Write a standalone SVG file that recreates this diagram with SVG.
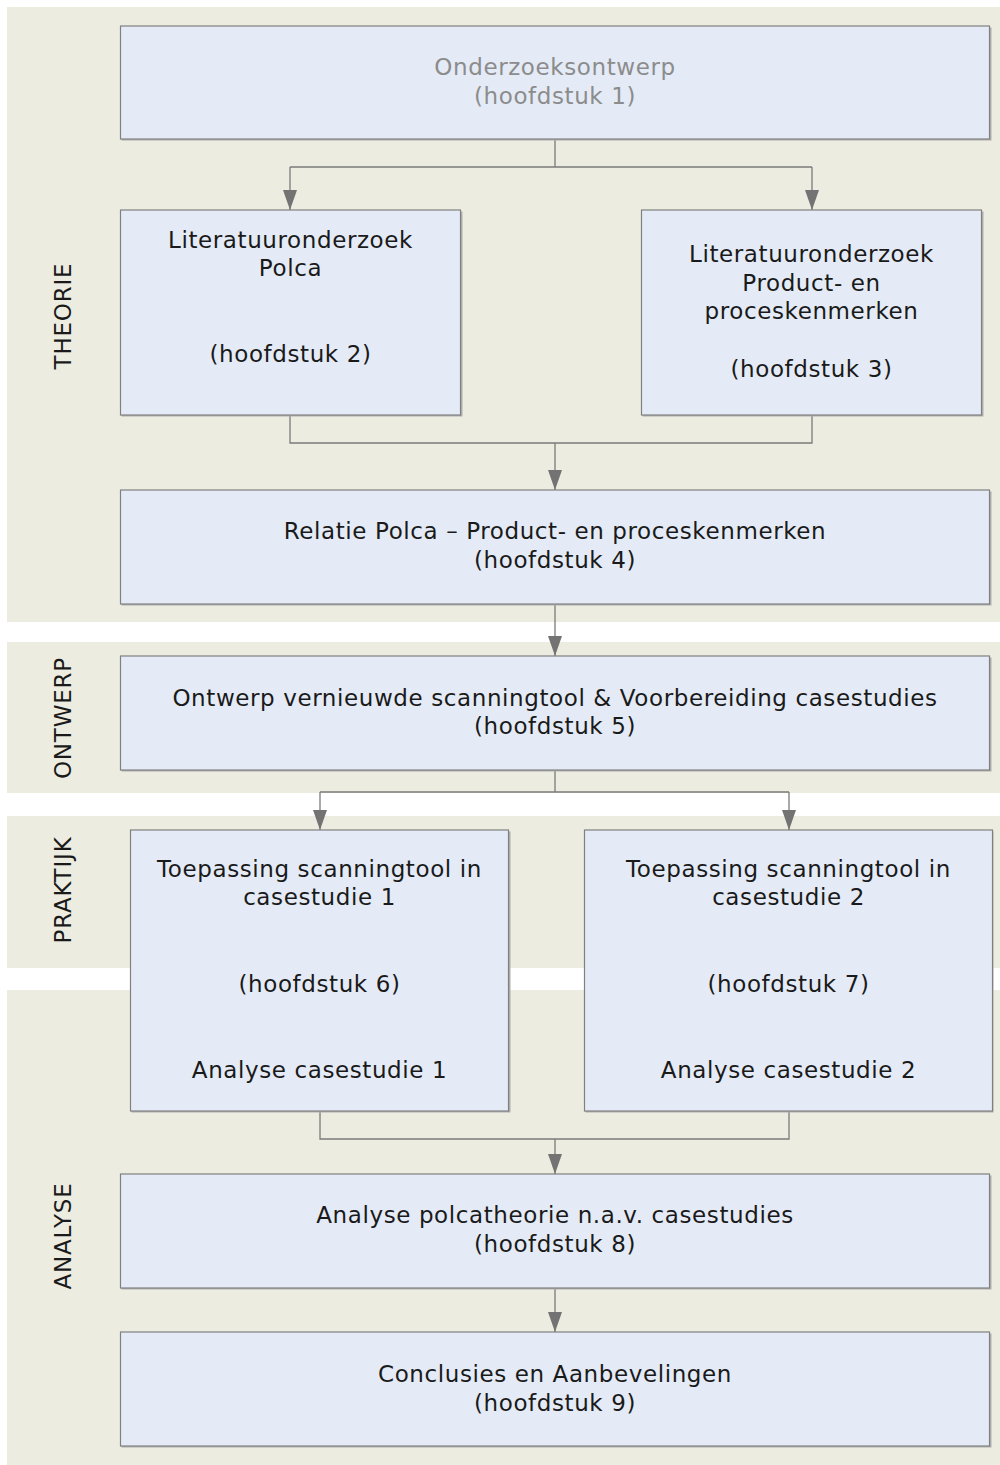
<svg xmlns="http://www.w3.org/2000/svg" width="1000" height="1465" viewBox="0 0 1000 1465">
  <style>
    .band { fill: #ECECE1; }
    .shadow { fill: #AFAFAF; }
    .box { fill: #E4EBF6; stroke: #808080; stroke-width: 1.2; }
    .t { font-family: "DejaVu Sans", Verdana, sans-serif; font-size: 23px; letter-spacing: 0.6px; fill: #1a1a1a; text-anchor: middle; }
    .muted { fill: #8c8c8c; }
    .side { font-family: "DejaVu Sans", Verdana, sans-serif; font-size: 23px; letter-spacing: 0.8px; fill: #1a1a1a; text-anchor: middle; }
    .wire { fill: none; stroke: #7a7a7a; stroke-width: 1.3; }
  </style>
  <defs>
    <!-- filled triangle pointing along the path direction; tip sits on the line end -->
    <marker id="arrow" markerWidth="20" markerHeight="14" refX="20" refY="7" orient="auto" markerUnits="userSpaceOnUse" viewBox="0 0 20 14">
      <path d="M0,0 L20,7 L0,14 Z" fill="#737373"/>
    </marker>
  </defs>

  <rect width="1000" height="1465" fill="#ffffff"/>

  <!-- phase bands -->
  <g id="bands">
    <rect class="band" x="7" y="7" width="993" height="615"/>
    <rect class="band" x="7" y="642" width="993" height="151"/>
    <rect class="band" x="7" y="816" width="993" height="152"/>
    <rect class="band" x="7" y="990" width="993" height="475"/>
    <text class="side" transform="translate(71,316) rotate(-90)">THEORIE</text>
    <text class="side" transform="translate(71,718) rotate(-90)">ONTWERP</text>
    <text class="side" transform="translate(71,890) rotate(-90)">PRAKTIJK</text>
    <text class="side" transform="translate(71,1236) rotate(-90)">ANALYSE</text>
  </g>

  <!-- connectors -->
  <g id="connectors">
    <path class="wire" d="M555,139 V167 M290,167 H812"/>
    <path class="wire" d="M290,167 V210" marker-end="url(#arrow)"/>
    <path class="wire" d="M812,167 V210" marker-end="url(#arrow)"/>
    <path class="wire" d="M290,415 V443 H812 V415"/>
    <path class="wire" d="M555,443 V490" marker-end="url(#arrow)"/>
    <path class="wire" d="M555,604 V656" marker-end="url(#arrow)"/>
    <path class="wire" d="M555,770 V792 M320,792 H789"/>
    <path class="wire" d="M320,792 V830" marker-end="url(#arrow)"/>
    <path class="wire" d="M789,792 V830" marker-end="url(#arrow)"/>
    <path class="wire" d="M320,1111 V1139 H789 V1111"/>
    <path class="wire" d="M555,1139 V1174" marker-end="url(#arrow)"/>
    <path class="wire" d="M555,1288 V1332" marker-end="url(#arrow)"/>
  </g>

  <g id="n1">
    <rect class="shadow" x="121.5" y="27.5" width="870" height="113"/>
    <rect class="box" x="120.5" y="26" width="869" height="113"/>
    <text class="t muted" x="555" y="75">Onderzoeksontwerp</text>
    <text class="t muted" x="555" y="104">(hoofdstuk 1)</text>
  </g>

  <g id="n2">
    <rect class="shadow" x="121.5" y="211.5" width="341" height="205"/>
    <rect class="box" x="120.5" y="210" width="340" height="205"/>
    <text class="t" x="290.5" y="248">Literatuuronderzoek</text>
    <text class="t" x="290.5" y="276">Polca</text>
    <text class="t" x="290.5" y="362">(hoofdstuk 2)</text>
  </g>

  <g id="n3">
    <rect class="shadow" x="642.5" y="211.5" width="341" height="205"/>
    <rect class="box" x="641.5" y="210" width="340" height="205"/>
    <text class="t" x="811.5" y="262">Literatuuronderzoek</text>
    <text class="t" x="811.5" y="291">Product- en</text>
    <text class="t" x="811.5" y="319">proceskenmerken</text>
    <text class="t" x="811.5" y="377">(hoofdstuk 3)</text>
  </g>

  <g id="n4">
    <rect class="shadow" x="121.5" y="491.5" width="870" height="114"/>
    <rect class="box" x="120.5" y="490" width="869" height="114"/>
    <text class="t" x="555" y="539">Relatie Polca – Product- en proceskenmerken</text>
    <text class="t" x="555" y="568">(hoofdstuk 4)</text>
  </g>

  <g id="n5">
    <rect class="shadow" x="121.5" y="657.5" width="870" height="114"/>
    <rect class="box" x="120.5" y="656" width="869" height="114"/>
    <text class="t" x="555" y="706">Ontwerp vernieuwde scanningtool &amp; Voorbereiding casestudies</text>
    <text class="t" x="555" y="734">(hoofdstuk 5)</text>
  </g>

  <g id="n6">
    <rect class="shadow" x="131.5" y="831.5" width="379" height="281"/>
    <rect class="box" x="130.5" y="830" width="378" height="281"/>
    <text class="t" x="319.5" y="877">Toepassing scanningtool in</text>
    <text class="t" x="319.5" y="905">casestudie 1</text>
    <text class="t" x="319.5" y="992">(hoofdstuk 6)</text>
    <text class="t" x="319.5" y="1078">Analyse casestudie 1</text>
  </g>

  <g id="n7">
    <rect class="shadow" x="585.5" y="831.5" width="408" height="281"/>
    <rect class="box" x="584.5" y="830" width="408" height="281"/>
    <text class="t" x="788.5" y="877">Toepassing scanningtool in</text>
    <text class="t" x="788.5" y="905">casestudie 2</text>
    <text class="t" x="788.5" y="992">(hoofdstuk 7)</text>
    <text class="t" x="788.5" y="1078">Analyse casestudie 2</text>
  </g>

  <g id="n8">
    <rect class="shadow" x="121.5" y="1175.5" width="870" height="114"/>
    <rect class="box" x="120.5" y="1174" width="869" height="114"/>
    <text class="t" x="555" y="1223">Analyse polcatheorie n.a.v. casestudies</text>
    <text class="t" x="555" y="1252">(hoofdstuk 8)</text>
  </g>

  <g id="n9">
    <rect class="shadow" x="121.5" y="1333.5" width="870" height="114"/>
    <rect class="box" x="120.5" y="1332" width="869" height="114"/>
    <text class="t" x="555" y="1382">Conclusies en Aanbevelingen</text>
    <text class="t" x="555" y="1411">(hoofdstuk 9)</text>
  </g>
</svg>
